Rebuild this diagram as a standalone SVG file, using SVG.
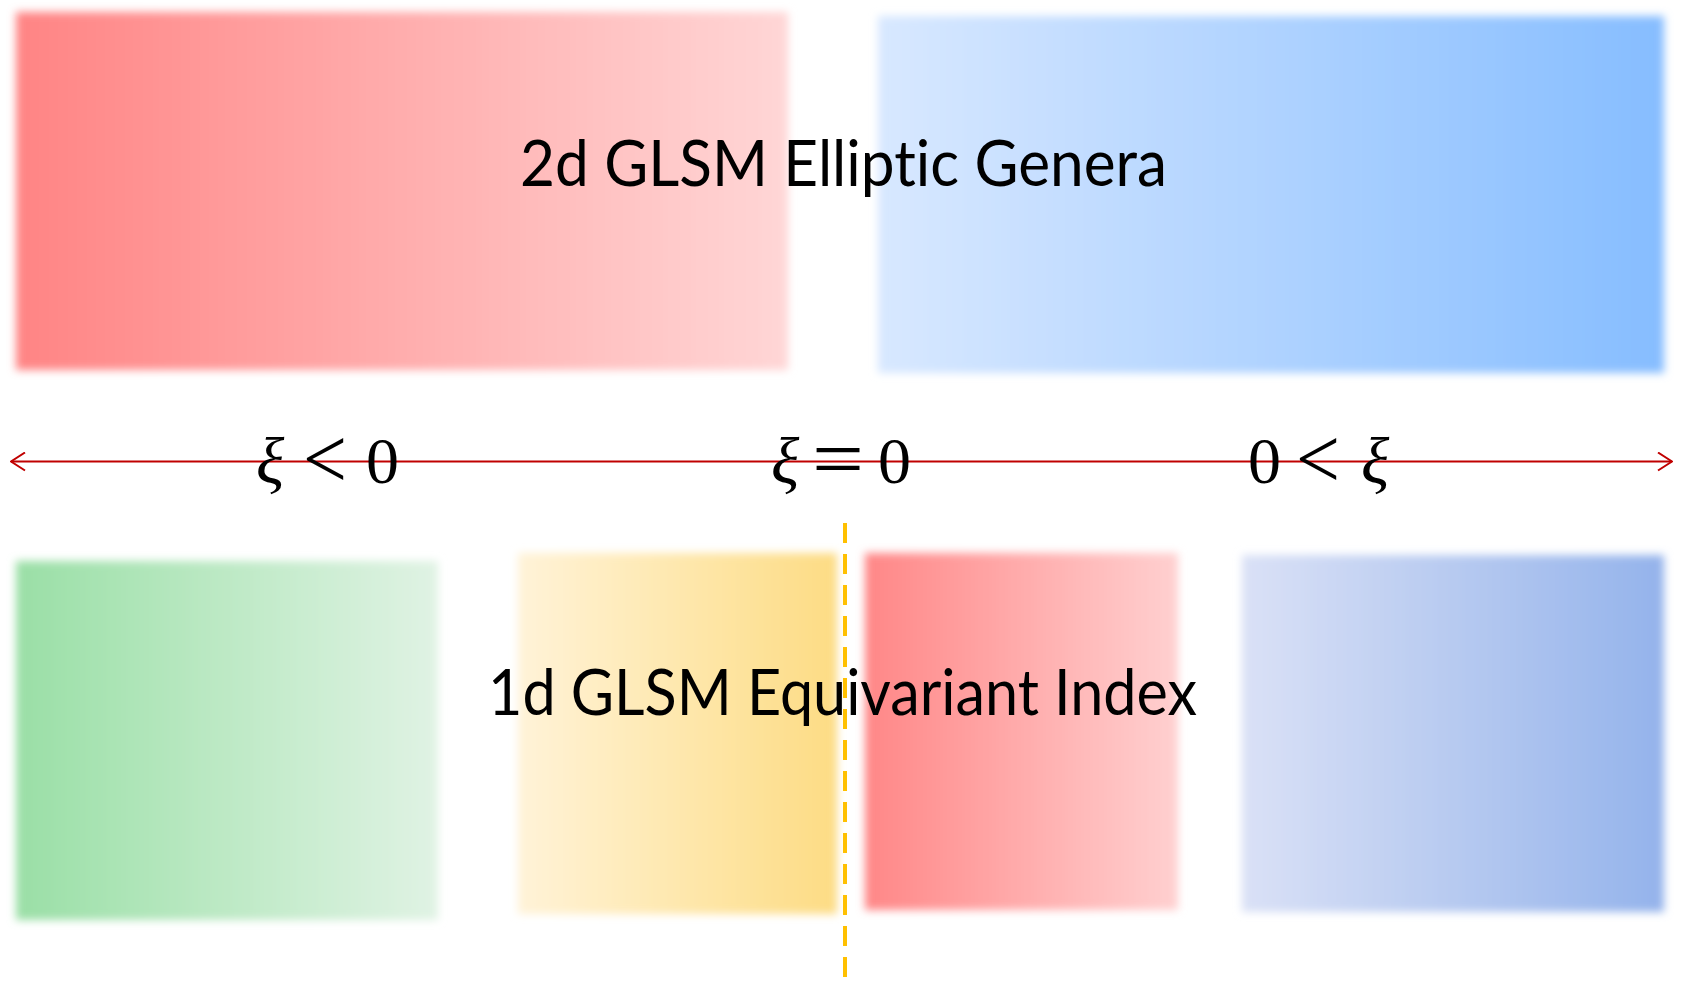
<svg xmlns="http://www.w3.org/2000/svg" width="1683" height="994" viewBox="0 0 1683 994">
<defs>
<filter id="blur" x="-5%" y="-5%" width="110%" height="110%"><feGaussianBlur stdDeviation="4"/></filter>
<linearGradient id="gRedTop" x1="0" x2="1" y1="0" y2="0"><stop offset="0" stop-color="#ff8484"/><stop offset="1" stop-color="#ffd6d6"/></linearGradient>
<linearGradient id="gBlueTop" x1="0" x2="1" y1="0" y2="0"><stop offset="0" stop-color="#d8e8ff"/><stop offset="1" stop-color="#86bdff"/></linearGradient>
<linearGradient id="gGreen" x1="0" x2="1" y1="0" y2="0"><stop offset="0" stop-color="#9adfa6"/><stop offset="1" stop-color="#e0f3e4"/></linearGradient>
<linearGradient id="gYellow" x1="0" x2="1" y1="0" y2="0"><stop offset="0" stop-color="#fff3d8"/><stop offset="1" stop-color="#fddc84"/></linearGradient>
<linearGradient id="gRedBot" x1="0" x2="1" y1="0" y2="0"><stop offset="0" stop-color="#ff8787"/><stop offset="1" stop-color="#ffd0d0"/></linearGradient>
<linearGradient id="gBlueBot" x1="0" x2="1" y1="0" y2="0"><stop offset="0" stop-color="#dae1f6"/><stop offset="1" stop-color="#94b3eb"/></linearGradient>
<marker id="open" viewBox="0 0 20 20" refX="19" refY="10" markerWidth="20" markerHeight="20" markerUnits="userSpaceOnUse" orient="auto-start-reverse"><path d="M5,1 L19,10 L5,19" fill="none" stroke="#c00000" stroke-width="2"/></marker>
</defs>
<style>
.box{filter:url(#blur)}
.title{font-family:"Lato","Open Sans","Liberation Sans",sans-serif;font-size:64px;fill:#000;font-variant-ligatures:none}
.math{font-family:"Liberation Serif","DejaVu Serif",serif;font-size:66px;fill:#000}
.op{font-family:"Liberation Serif","DejaVu Serif",serif;font-size:86px;fill:#000}
.it{font-style:italic}
</style>
<rect width="1683" height="994" fill="#fff"/>
<g id="top-red"><rect class="box" x="16" y="12" width="772" height="358" fill="url(#gRedTop)"/></g>
<g id="top-blue"><rect class="box" x="878" y="16" width="786" height="357" fill="url(#gBlueTop)"/></g>
<g id="top-label"><text class="title" x="520" y="186" textLength="647" lengthAdjust="spacingAndGlyphs">2d GLSM Elliptic Genera</text></g>
<g id="bot-green"><rect class="box" x="16" y="561" width="422" height="359" fill="url(#gGreen)"/></g>
<g id="bot-yellow"><rect class="box" x="518" y="553" width="319" height="361" fill="url(#gYellow)"/></g>
<g id="bot-red"><rect class="box" x="865" y="553" width="313" height="357" fill="url(#gRedBot)"/></g>
<g id="bot-blue"><rect class="box" x="1242" y="555" width="422" height="357" fill="url(#gBlueBot)"/></g>
<g id="connectors">
<line x1="845" y1="523" x2="845" y2="988" stroke="#ffc000" stroke-width="4" stroke-dasharray="20,11"/>
<line x1="11" y1="461.5" x2="1672" y2="461.5" stroke="#c00000" stroke-width="2" marker-start="url(#open)" marker-end="url(#open)"/>
</g>
<g id="bot-label"><text class="title" x="488" y="715" textLength="709" lengthAdjust="spacingAndGlyphs">1d GLSM Equivariant Index</text></g>
<g id="lbl-neg"><text class="math it" x="256" y="483">ξ</text><text class="op" x="303" y="488" textLength="44" lengthAdjust="spacingAndGlyphs">&lt;</text><text class="math" x="366" y="483">0</text></g>
<g id="lbl-zero"><text class="math it" x="771" y="483">ξ</text><text class="op" x="812" y="488" textLength="52" lengthAdjust="spacingAndGlyphs">=</text><text class="math" x="878" y="483">0</text></g>
<g id="lbl-pos"><text class="math" x="1248" y="483">0</text><text class="op" x="1296" y="488" textLength="44" lengthAdjust="spacingAndGlyphs">&lt;</text><text class="math it" x="1361" y="483">ξ</text></g>
</svg>
